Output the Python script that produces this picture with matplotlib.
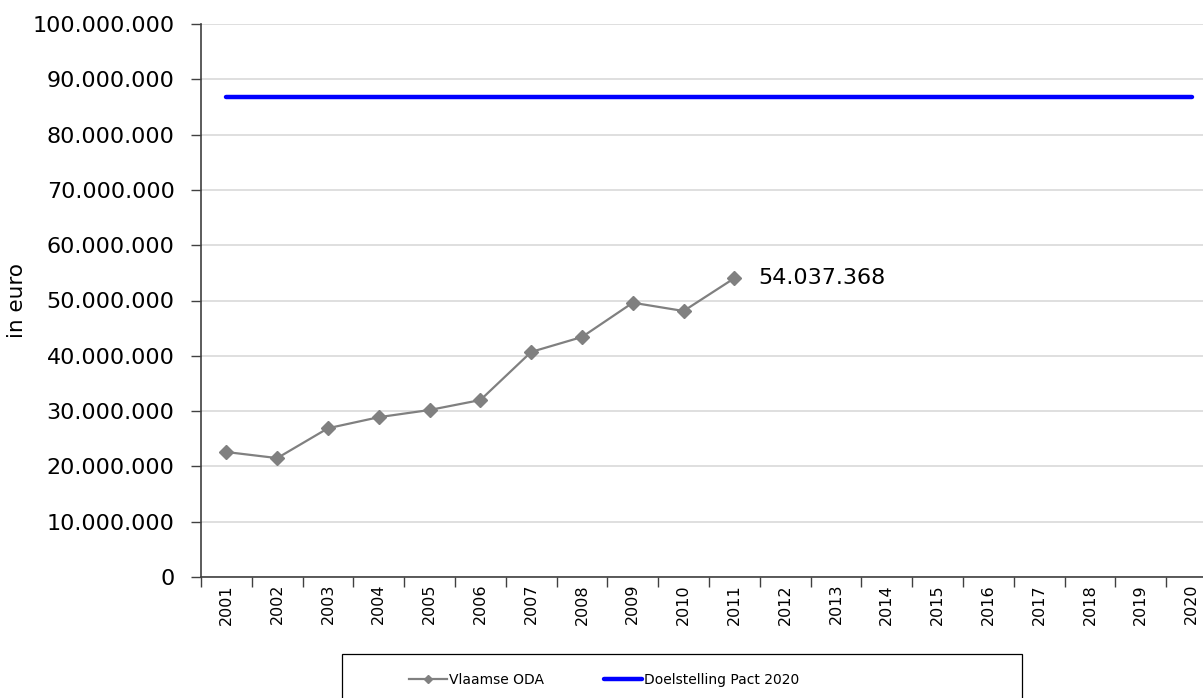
import matplotlib

matplotlib.use("Agg")
import matplotlib.pyplot as plt
from matplotlib.patches import Rectangle
from matplotlib.ticker import FuncFormatter, MultipleLocator

# ── data ──
years = [str(y) for y in range(2001, 2021)]
vlaamse_oda = [
    22_600_000, 21_500_000, 26_900_000, 28_900_000, 30_200_000,
    32_000_000, 40_700_000, 43_400_000, 49_600_000, 48_100_000,
    54_037_368,
]
doelstelling = [86_800_000] * len(years)
last_label = "54.037.368"

plt.rcParams["font.family"] = ["DejaVu Sans"]

W, H = 1203, 698
fig = plt.figure(figsize=(W / 100, H / 100), dpi=100)
# plot area runs a little past the right edge of the canvas, like the original
ax = fig.add_axes([201 / W, 1 - 577 / H, 1016 / W, 553 / H])

x_all = list(range(len(years)))
x_oda = x_all[: len(vlaamse_oda)]

ax.plot(x_oda, vlaamse_oda, color="#808080", linewidth=1.6, marker="D",
        markersize=7.5, label="Vlaamse ODA", zorder=3)
ax.plot(x_all, doelstelling, color="#0000ff", linewidth=3.2,
        solid_capstyle="round", label="Doelstelling Pact 2020", zorder=3)

ax.annotate(last_label, (x_oda[-1], vlaamse_oda[-1]), xytext=(17, 0),
            textcoords="offset points", va="center", ha="left", fontsize=16)

# ── axes ──
ax.set_xlim(-0.5, len(years) - 0.5)
ax.set_ylim(0, 100_000_000)
ax.yaxis.set_major_locator(MultipleLocator(10_000_000))
ax.yaxis.set_major_formatter(
    FuncFormatter(lambda v, _: f"{int(v):,}".replace(",", "."))
)
ax.tick_params(axis="y", labelsize=16, length=7, width=1, color="#404040",
               pad=12)

ax.set_xticks(x_all)
ax.set_xticklabels(years, rotation=90, fontsize=11.5)
ax.set_xticks([i - 0.5 for i in range(len(years) + 1)], minor=True)
ax.tick_params(axis="x", which="major", length=0, pad=5)
ax.tick_params(axis="x", which="minor", length=7, width=1, color="#404040")

ax.set_ylabel("in euro", fontsize=15.5)
ax.yaxis.set_label_coords((27 - 201) / 1016, 0.5)

ax.grid(axis="y", color="#d9d9d9", linewidth=1.2)
ax.set_axisbelow(True)
ax.spines["top"].set_visible(False)
ax.spines["right"].set_visible(False)
for side in ("left", "bottom"):
    ax.spines[side].set_color("#404040")
    ax.spines[side].set_linewidth(1.2)

# ── legend: wide box that runs off the bottom edge ──
fig.patches.append(Rectangle((342 / W, -0.02), 680 / W, 0.02 + 44 / H,
                             transform=fig.transFigure, fill=False,
                             edgecolor="black", linewidth=0.9))
fig.legend(loc="center left", bbox_to_anchor=(396 / W, 18 / H), ncol=2,
           fontsize=10, frameon=False, handlelength=2.8,
           handletextpad=0.1, columnspacing=4.3, markerscale=0.6)

fig.savefig("out.png", dpi=100)
